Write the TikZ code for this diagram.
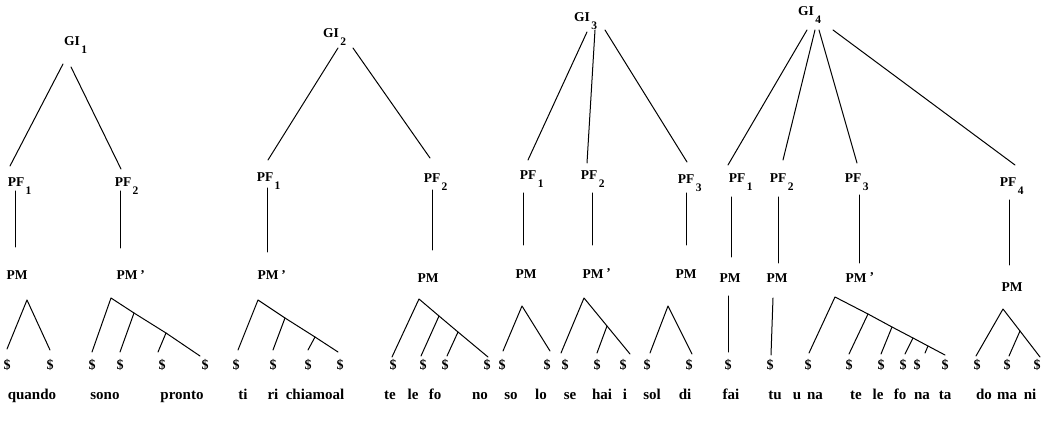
\documentclass[tikz,border=0pt]{standalone}
\usepackage{fontspec}
\setmainfont{Liberation Serif}
\newcommand\lsub[1]{\smash{\rlap{\kern1.5pt\raisebox{-8pt}{\fontsize{11.5}{11.5}\selectfont #1}}}}
\newcommand\lprime{\smash{\rlap{\kern3pt\raisebox{1pt}{'}}}}
\begin{document}
\begin{tikzpicture}[x=1pt,y=-1pt,
 lab/.style={font=\fontsize{13.5}{13.5}\selectfont\bfseries, inner sep=0pt, outer sep=0pt, anchor=base},
 dol/.style={font=\fontsize{14}{14}\selectfont\bfseries, inner sep=0pt, outer sep=0pt, anchor=base},
 wrd/.style={font=\fontsize{15}{15}\selectfont\bfseries, inner sep=0pt, outer sep=0pt, anchor=base},
 br/.style={line width=1pt, line cap=round, line join=round}]
\useasboundingbox (0,0) rectangle (1045,422);

% ================= Tree 1 =================
\node[lab] (G1) at (72,46) {GI\lsub{1}};
\node[lab] (P11) at (16,187) {PF\lsub{1}};
\node[lab] (P12) at (123,187) {PF\lsub{2}};
\node[lab] (M11) at (17,280) {PM};
\node[lab] (M12) at (127,280) {PM\lprime};
\draw[br] ([shift={(-9,18)}]G1.base) -- ([shift={(-6,-21)}]P11.base);
\draw[br] ([shift={(-1,21)}]G1.base) -- ([shift={(-2,-18)}]P12.base);
\draw[br] ([shift={(-1,4)}]P11.base) -- ([shift={(-2,-33)}]M11.base);
\draw[br] ([shift={(-3,4)}]P12.base) -- ([shift={(-7,-32)}]M12.base);
\node[dol] (d11a) at (7,370) {\$};
\node[dol] (d11b) at (50,370) {\$};
\node[dol] (d12a) at (92,370) {\$};
\node[dol] (d12b) at (120,370) {\$};
\node[dol] (d12c) at (162,370) {\$};
\node[dol] (d12d) at (205,370) {\$};
\coordinate (a11) at (27,300);
\draw[br] ([shift={(0,-21)}]d11a.base) -- (a11) -- ([shift={(0,-20)}]d11b.base);
\coordinate (a12) at (111,298);
\coordinate (b12a) at (134,313);
\coordinate (b12b) at (166,333);
\draw[br] ([shift={(0,-18)}]d12a.base) -- (a12) -- (b12a) -- (b12b) -- ([shift={(-5,-14)}]d12d.base);
\draw[br] (b12a) -- ([shift={(0,-18)}]d12b.base);
\draw[br] (b12b) -- ([shift={(-4,-18)}]d12c.base);
\node[wrd] (w1) at (32,399) {quando};
\node[wrd] (w2) at (105,399) {sono};
\node[wrd] (w3) at (182,399) {pronto};

% ================= Tree 2 =================
\node[lab] (G2) at (331,38) {GI\lsub{2}};
\node[lab] (P21) at (265,182) {PF\lsub{1}};
\node[lab] (P22) at (432,183) {PF\lsub{2}};
\node[lab] (M21) at (268,280) {PM\lprime};
\node[lab] (M22) at (428,283) {PM};
\draw[br] ([shift={(7,10)}]G2.base) -- ([shift={(3,-22)}]P21.base);
\draw[br] ([shift={(22,10)}]G2.base) -- ([shift={(-2,-25)}]P22.base);
\draw[br] ([shift={(2,6)}]P21.base) -- ([shift={(-1,-28)}]M21.base);
\draw[br] ([shift={(0,7)}]P22.base) -- ([shift={(4,-33)}]M22.base);
\node[dol] (d21a) at (236,370) {\$};
\node[dol] (d21b) at (273,370) {\$};
\node[dol] (d21c) at (308,370) {\$};
\node[dol] (d21d) at (340,370) {\$};
\coordinate (a21) at (258,300);
\coordinate (b21a) at (285,318);
\coordinate (b21b) at (315,337);
\draw[br] ([shift={(2,-20)}]d21a.base) -- (a21) -- (b21a) -- (b21b) -- ([shift={(-2,-18)}]d21d.base);
\draw[br] (b21a) -- ([shift={(0,-20)}]d21b.base);
\draw[br] (b21b) -- ([shift={(0,-20)}]d21c.base);
\node[dol] (d22a) at (393,370) {\$};
\node[dol] (d22b) at (423,370) {\$};
\node[dol] (d22c) at (445,370) {\$};
\node[dol] (d22d) at (487,370) {\$};
\coordinate (a22) at (419,299);
\coordinate (b22a) at (439,316);
\coordinate (b22b) at (458,332);
\draw[br] ([shift={(-1,-13)}]d22a.base) -- (a22) -- (b22a) -- (b22b) -- ([shift={(1,-13)}]d22d.base);
\draw[br] (b22a) -- ([shift={(-2,-14)}]d22b.base);
\draw[br] (b22b) -- ([shift={(2,-14)}]d22c.base);
\node[wrd] (w4) at (243,399) {ti};
\node[wrd] (w5) at (273,399) {ri};
\node[wrd] (w6) at (315,399) {chiamoal};
\node[wrd] (w7) at (390,399) {te};
\node[wrd] (w8) at (413,399) {le};
\node[wrd] (w9) at (435,399) {fo};
\node[wrd] (w10) at (480,399) {no};

% ================= Tree 3 =================
\node[lab] (G3) at (582,22) {GI\lsub{3}};
\node[lab] (P31) at (528,180) {PF\lsub{1}};
\node[lab] (P32) at (589,180) {PF\lsub{2}};
\node[lab] (P33) at (686,184) {PF\lsub{3}};
\node[lab] (M31) at (526,279) {PM};
\node[lab] (M32) at (593,279) {PM\lprime};
\node[lab] (M33) at (686,279) {PM};
\draw[br] ([shift={(5,10)}]G3.base) -- ([shift={(0,-20)}]P31.base);
\draw[br] ([shift={(13,8)}]G3.base) -- ([shift={(-2,-17)}]P32.base);
\draw[br] ([shift={(23,8)}]G3.base) -- ([shift={(1,-22)}]P33.base);
\draw[br] ([shift={(-5,13)}]P31.base) -- ([shift={(-3,-34)}]M31.base);
\draw[br] ([shift={(3,13)}]P32.base) -- ([shift={(-1,-34)}]M32.base);
\draw[br] ([shift={(0,9)}]P33.base) -- ([shift={(0,-34)}]M33.base);
\node[dol] (d31a) at (502,370) {\$};
\node[dol] (d31b) at (547,370) {\$};
\node[dol] (d32a) at (565,370) {\$};
\node[dol] (d32b) at (597,370) {\$};
\node[dol] (d32c) at (623,370) {\$};
\node[dol] (d33a) at (647,370) {\$};
\node[dol] (d33b) at (689,370) {\$};
\coordinate (a31) at (522,306);
\draw[br] ([shift={(1,-19)}]d31a.base) -- (a31) -- ([shift={(3,-19)}]d31b.base);
\coordinate (a32) at (584,298);
\coordinate (b32) at (607,326);
\draw[br] ([shift={(-4,-17)}]d32a.base) -- (a32) -- (b32) -- ([shift={(7,-16)}]d32c.base);
\draw[br] (b32) -- ([shift={(0,-17)}]d32b.base);
\coordinate (a33) at (668,306);
\draw[br] ([shift={(3,-17)}]d33a.base) -- (a33) -- ([shift={(3,-16)}]d33b.base);
\node[wrd] (w11) at (511,399) {so};
\node[wrd] (w12) at (541,399) {lo};
\node[wrd] (w13) at (570,399) {se};
\node[wrd] (w14) at (602,399) {hai};
\node[wrd] (w15) at (625,399) {i};
\node[wrd] (w16) at (652,399) {sol};
\node[wrd] (w17) at (685,399) {di};

% ================= Tree 4 =================
\node[lab] (G4) at (806,16) {GI\lsub{4}};
\node[lab] (P41) at (737,183) {PF\lsub{1}};
\node[lab] (P42) at (778,183) {PF\lsub{2}};
\node[lab] (P43) at (853,183) {PF\lsub{3}};
\node[lab] (P44) at (1008,187) {PF\lsub{4}};
\node[lab] (M41) at (730,283) {PM};
\node[lab] (M42) at (777,283) {PM};
\node[lab] (M43) at (856,283) {PM\lprime};
\node[lab] (M44) at (1012,291) {PM};
\draw[br] ([shift={(1,14)}]G4.base) -- ([shift={(-9,-18)}]P41.base);
\draw[br] ([shift={(9,14)}]G4.base) -- ([shift={(5,-23)}]P42.base);
\draw[br] ([shift={(13,14)}]G4.base) -- ([shift={(4,-20)}]P43.base);
\draw[br] ([shift={(27,14)}]G4.base) -- ([shift={(7,-22)}]P44.base);
\draw[br] ([shift={(-6,14)}]P41.base) -- ([shift={(1,-26)}]M41.base);
\draw[br] ([shift={(0,14)}]P42.base) -- ([shift={(1,-20)}]M42.base);
\draw[br] ([shift={(6,12)}]P43.base) -- ([shift={(3,-20)}]M43.base);
\draw[br] ([shift={(1,13)}]P44.base) -- ([shift={(-3,-26)}]M44.base);
\node[dol] (d41) at (728,370) {\$};
\node[dol] (d42) at (770,370) {\$};
\draw[br] ([shift={(-2,13)}]M41.base) -- ([shift={(0,-18)}]d41.base);
\draw[br] ([shift={(-4,15)}]M42.base) -- ([shift={(1,-15)}]d42.base);
\node[dol] (d43a) at (808,370) {\$};
\node[dol] (d43b) at (849,370) {\$};
\node[dol] (d43c) at (881,370) {\$};
\node[dol] (d43d) at (903,370) {\$};
\node[dol] (d43e) at (917,370) {\$};
\node[dol] (d43f) at (945,370) {\$};
\coordinate (a43) at (835,297);
\coordinate (b43a) at (868,314);
\coordinate (b43b) at (892,327);
\coordinate (b43c) at (913,338);
\coordinate (b43d) at (928,346);
\draw[br] ([shift={(1,-17)}]d43a.base) -- (a43) -- (b43a) -- (b43b) -- (b43c) -- (b43d) -- ([shift={(0,-15)}]d43f.base);
\draw[br] (b43a) -- ([shift={(0,-16)}]d43b.base);
\draw[br] (b43b) -- ([shift={(0,-16)}]d43c.base);
\draw[br] (b43c) -- ([shift={(2,-16)}]d43d.base);
\draw[br] (b43d) -- ([shift={(8,-17)}]d43e.base);
\node[dol] (d44a) at (977,370) {\$};
\node[dol] (d44b) at (1007,370) {\$};
\node[dol] (d44c) at (1037,370) {\$};
\coordinate (a44) at (1003,309);
\coordinate (b44) at (1020,331);
\draw[br] ([shift={(-1,-14)}]d44a.base) -- (a44) -- (b44) -- ([shift={(3,-13)}]d44c.base);
\draw[br] (b44) -- ([shift={(2,-14)}]d44b.base);
\node[wrd] (w18) at (731,399) {fai};
\node[wrd] (w19) at (775,399) {tu};
\node[wrd] (w20) at (797,399) {u};
\node[wrd] (w21) at (815,399) {na};
\node[wrd] (w22) at (856,399) {te};
\node[wrd] (w23) at (878,399) {le};
\node[wrd] (w24) at (900,399) {fo};
\node[wrd] (w25) at (922,399) {na};
\node[wrd] (w26) at (945,399) {ta};
\node[wrd] (w27) at (984,399) {do};
\node[wrd] (w28) at (1007,399) {ma};
\node[wrd] (w29) at (1030,399) {ni};
\end{tikzpicture}
\end{document}
